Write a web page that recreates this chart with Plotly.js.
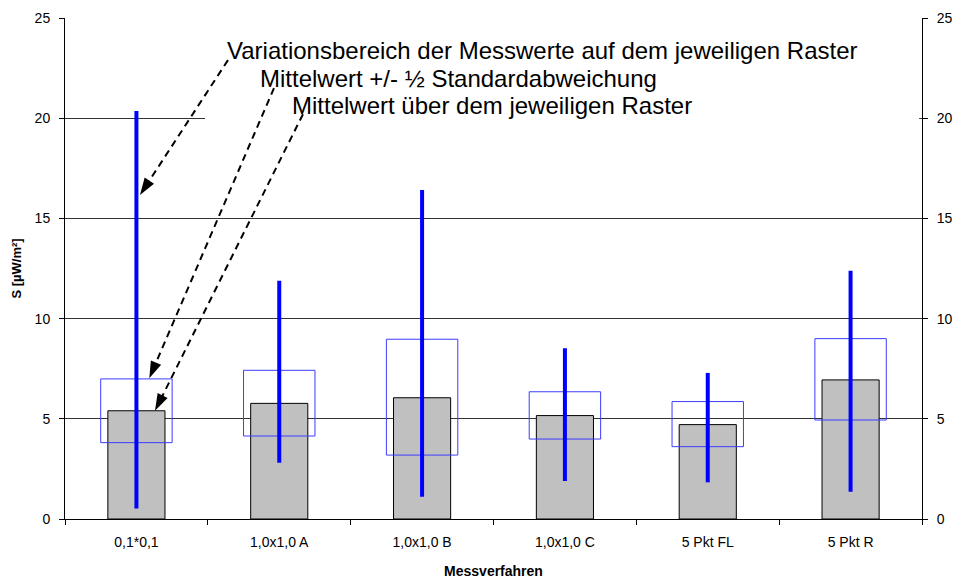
<!DOCTYPE html>
<html>
<head>
<meta charset="utf-8">
<script src="https://cdn.plot.ly/plotly-3.0.1.min.js"></script>
<style>html,body{margin:0;padding:0;background:#fff}</style>
</head>
<body>
<div id="chart" style="width:955px;height:580px"></div>
<script>
// ---- data ----
const categories = ['0,1*0,1', '1,0x1,0 A', '1,0x1,0 B', '1,0x1,0 C', '5 Pkt FL', '5 Pkt R'];
const meanValues = [5.40, 5.77, 6.05, 5.16, 4.71, 6.94];       // Mittelwert
const sdLow      = [3.81, 4.14, 3.19, 3.99, 3.61, 4.94];       // Mittelwert - 1/2 Std
const sdHigh     = [6.99, 7.42, 8.97, 6.35, 5.86, 9.00];       // Mittelwert + 1/2 Std
const rangeMin   = [0.53, 2.81, 1.11, 1.90, 1.83, 1.36];       // Minimum
const rangeMax   = [20.36, 11.89, 16.42, 8.52, 7.29, 12.39];   // Maximum

const noteTexts = [
  'Variationsbereich der Messwerte auf dem jeweiligen Raster',
  'Mittelwert +/- \u00BD Standardabweichung',
  'Mittelwert \u00FCber dem jeweiligen Raster'
];
// arrow pointers (x in category index units, y in axis units)
const arrowStartX = [0.641, 0.963, 1.166];
const arrowStartY = [22.9, 21.5, 20.2];
const arrowEndX   = [0.025, 0.090, 0.130];
const arrowEndY   = [16.17, 7.02, 5.40];

const FONT = 'Liberation Sans, Arial, sans-serif';
// white background of the text box (hides the gridline behind the notes)
const noteBox = {x0: 0.48, x1: 5.48, y0: 19.81, y1: 24.5};

const traces = [];
traces.push({
  type: 'bar', x: categories, y: meanValues, width: 0.4,
  marker: {color: '#c0c0c0', line: {color: '#000000', width: 1}},
  hoverinfo: 'skip'
});
traces.push({
  type: 'bar', x: categories, base: sdLow,
  y: sdHigh.map((h, i) => h - sdLow[i]), width: 0.5,
  marker: {color: 'rgba(0,0,0,0)', line: {color: 'rgb(60,60,255)', width: 1}},
  hoverinfo: 'skip'
});
const rx = [], ry = [];
categories.forEach((c, i) => { rx.push(c, c, null); ry.push(rangeMin[i], rangeMax[i], null); });
traces.push({
  type: 'scatter', mode: 'lines', x: rx, y: ry, connectgaps: false,
  line: {color: '#0000ff', width: 4}, hoverinfo: 'skip'
});
traces.push({
  type: 'scatter', mode: 'lines', xaxis: 'x2', yaxis: 'y2',
  x: [noteBox.x0, noteBox.x1, noteBox.x1, noteBox.x0, noteBox.x0],
  y: [noteBox.y0, noteBox.y0, noteBox.y1, noteBox.y1, noteBox.y0],
  fill: 'toself', fillcolor: '#ffffff', line: {width: 0, color: 'rgba(0,0,0,0)'},
  hoverinfo: 'skip'
});
for (let i = 0; i < arrowStartX.length; i++) {
  traces.push({
    type: 'scatter', mode: 'lines+markers', xaxis: 'x2', yaxis: 'y2',
    x: [arrowStartX[i], arrowEndX[i]], y: [arrowStartY[i], arrowEndY[i]],
    line: {color: '#000000', width: 2, dash: '7px,5px'},
    marker: {symbol: ['circle', 'arrow'], size: [0, 18], angleref: 'previous', color: '#000000', opacity: 1, line: {width: 0}},
    hoverinfo: 'skip'
  });
}

const annotations = noteTexts.map((t, i) => ({
  xref: 'paper', yref: 'paper', xanchor: 'left', yanchor: 'middle',
  x: [0.1865, 0.225, 0.2625][i], y: [0.936, 0.880, 0.8244][i],
  text: t, showarrow: false,
  font: {family: FONT, size: 24, color: '#000000'}
}));

const layout = {
  width: 955, height: 580,
  margin: {l: 65, r: 33, t: 18, b: 61},
  paper_bgcolor: '#ffffff', plot_bgcolor: '#ffffff',
  font: {family: FONT, color: '#000000'},
  showlegend: false,
  barmode: 'overlay',
  xaxis: {
    type: 'category', range: [-0.5, 5.5], tickson: 'boundaries',
    ticks: 'outside', ticklen: 5, tickcolor: '#000000',
    showline: true, linecolor: '#000000', linewidth: 1, showgrid: false,
    tickfont: {family: FONT, size: 14, color: '#000000'}, ticklabelstandoff: 10,
    title: {text: 'Messverfahren', font: {family: FONT, size: 14, color: '#000000', weight: 'bold'}, standoff: 17},
    fixedrange: true
  },
  xaxis2: {overlaying: 'x', range: [-0.5, 5.5], visible: false, fixedrange: true},
  yaxis: {
    range: [0, 25], tick0: 0, dtick: 5,
    showgrid: true, gridcolor: '#333333', gridwidth: 1, zeroline: false,
    showline: true, linecolor: '#000000', linewidth: 1,
    ticks: 'outside', ticklen: 5, tickcolor: '#000000',
    tickfont: {family: FONT, size: 14, color: '#000000'}, ticklabelstandoff: 6,
    title: {text: 'S [\u00B5W/m\u00B2]', font: {family: FONT, size: 13, color: '#000000', weight: 'bold'}, standoff: 10},
    fixedrange: true
  },
  yaxis2: {
    overlaying: 'y', side: 'right', anchor: 'x2', range: [0, 25], tick0: 0, dtick: 5,
    showgrid: false, zeroline: false,
    showline: true, linecolor: '#000000', linewidth: 1,
    ticks: 'outside', ticklen: 5, tickcolor: '#000000',
    tickfont: {family: FONT, size: 14, color: '#000000'}, ticklabelstandoff: 6,
    fixedrange: true
  },
  annotations: annotations
};

Plotly.newPlot('chart', traces, layout, {displayModeBar: false, staticPlot: true});
</script>
</body>
</html>
